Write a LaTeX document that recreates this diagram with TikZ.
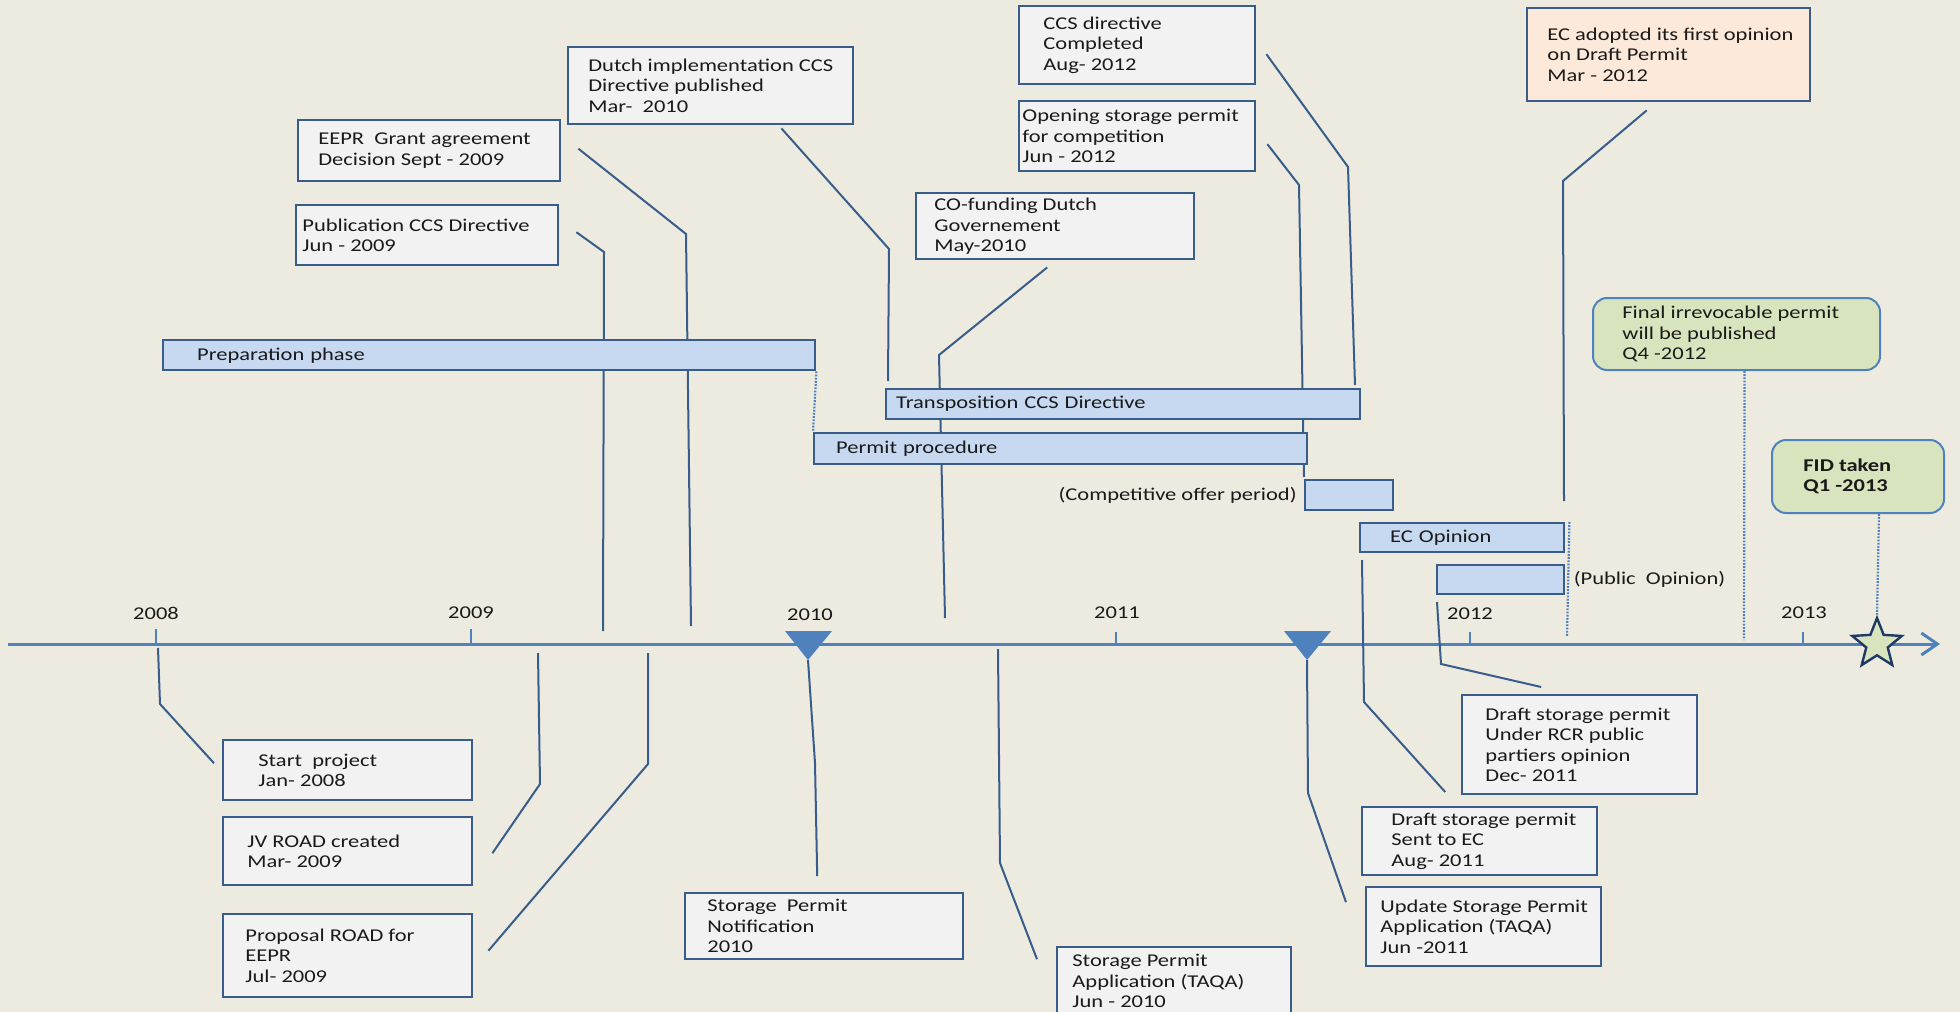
\documentclass[tikz,border=0pt]{standalone}
\usepackage{fontspec}
\setmainfont{Carlito}[FakeStretch=1.25]
\usetikzlibrary{positioning,shapes.geometric,arrows.meta}
\definecolor{paper}{RGB}{237,235,224}
\definecolor{boxline}{RGB}{56,93,138}
\definecolor{boxfill}{RGB}{242,242,242}
\definecolor{barfill}{RGB}{198,217,241}
\definecolor{axisblue}{RGB}{79,129,189}
\definecolor{milestone}{RGB}{215,228,189}
\definecolor{peach}{RGB}{253,233,217}
\definecolor{starline}{RGB}{31,56,100}
\definecolor{ink}{RGB}{26,26,26}

\begin{document}
\begin{tikzpicture}[x=0.5pt,y=-0.5pt,font=\fontsize{9}{10.2}\selectfont,text=ink,
  evbox/.style={draw=boxline,fill=boxfill,line width=1.2pt,anchor=north west,inner sep=0pt},
  evtext/.style={align=left,inner sep=0pt},
  bar/.style={draw=boxline,fill=barfill,line width=1.2pt,anchor=north west,inner ysep=0pt,align=left},
  goal/.style={draw=axisblue,fill=milestone,line width=1pt,rounded corners=7pt,anchor=north west,inner sep=0pt},
  leader/.style={draw=boxline,line width=1pt},
  guide/.style={draw=axisblue,line width=1.1pt,dash pattern=on 0.9pt off 0.7pt},
  tick/.style={draw=axisblue,line width=1pt}]
\useasboundingbox (0,0) rectangle (1960,1012);
\clip (0,0) rectangle (1960,1012);
\fill[paper] (0,0) rectangle (1960,1012);

% time axis
\draw[axisblue,line width=1.5pt,-{Straight Barb[length=8pt,width=11pt]}] (8,644) -- (1940,644);
\draw[tick] (156,629) -- (156,644);
\draw[tick] (471,629) -- (471,644);
\draw[tick] (1116,632) -- (1116,644);
\draw[tick] (1470,632) -- (1470,644);
\draw[tick] (1803,632) -- (1803,644);
\node (y2008) at (156,613) {2008};
\node (y2009) at (471,613) {2009};
\node (y2010) at (810,615) {2010};
\node (y2011) at (1117,613) {2011};
\node (y2012) at (1470,614) {2012};
\node (y2013) at (1804,613) {2013};
\fill[axisblue] (785,631) -- (832,631) -- (808,660) -- cycle;
\coordinate (mark2010) at (808,660);
\fill[axisblue] (1284,631) -- (1331,631) -- (1307,660) -- cycle;
\coordinate (mark2011) at (1307,660);

% events above the axis
\node[evbox,minimum width=131pt,minimum height=30pt] (pubccs) at (295,204) {};
\node[evtext,right=3.5pt of pubccs.west] {Publication CCS Directive\\Jun - 2009};
\node[evbox,minimum width=131pt,minimum height=30.5pt] (eepr) at (297,119) {};
\node[evtext,right=10.5pt of eepr.west] {EEPR\ \ Grant agreement\\Decision Sept - 2009};
\node[evbox,minimum width=142.5pt,minimum height=38.5pt] (dutchimpl) at (567,46) {};
\node[evtext,right=10.5pt of dutchimpl.west] {Dutch implementation CCS\\Directive published\\Mar-\ \ 2010};
\node[evbox,minimum width=139pt,minimum height=33pt] (cofund) at (915,192) {};
\node[evtext,right=9.5pt of cofund.west] {CO-funding Dutch\\Governement\\May-2010};
\node[evbox,minimum width=118pt,minimum height=39pt] (ccsdone) at (1018,5) {};
\node[evtext,right=12.5pt of ccsdone.west] {CCS directive\\Completed\\Aug- 2012};
\node[evbox,minimum width=118pt,minimum height=35pt] (opening) at (1018,100) {};
\node[evtext,right=2pt of opening.west] {Opening storage permit\\for competition\\Jun - 2012};
\node[evbox,fill=peach,minimum width=141.5pt,minimum height=46.5pt] (ecfirst) at (1526,7) {};
\node[evtext,right=10.5pt of ecfirst.west] {EC adopted its first opinion\\on Draft Permit\\Mar - 2012};
\node[goal,minimum width=143.5pt,minimum height=36pt] (finalpermit) at (1592,297) {};
\node[evtext,right=15pt of finalpermit.west] {Final irrevocable permit\\will be published\\Q4 -2012};
\node[goal,minimum width=86pt,minimum height=36.5pt] (fid) at (1771,439) {};
\node[evtext,font=\fontsize{9}{10.2}\selectfont\bfseries,right=16pt of fid.west] {FID taken\\Q1 -2013};

% events below the axis
\node[evbox,minimum width=124.5pt,minimum height=30pt] (startproj) at (222,739) {};
\node[evtext,right=18pt of startproj.west] {Start\ \ project\\Jan- 2008};
\node[evbox,minimum width=124.5pt,minimum height=34pt] (jvroad) at (222,816) {};
\node[evtext,right=12.5pt of jvroad.west] {JV ROAD created\\Mar- 2009};
\node[evbox,minimum width=124.5pt,minimum height=41.5pt] (proposal) at (222,913) {};
\node[evtext,right=11.5pt of proposal.west] {Proposal ROAD for\\EEPR\\Jul- 2009};
\node[evbox,minimum width=139pt,minimum height=33pt] (notif) at (684,892) {};
\node[evtext,right=11.5pt of notif.west] {Storage\ \ Permit\\Notification\\2010};
\node[evbox,minimum width=117pt,minimum height=34pt] (applic) at (1056,946) {};
\node[evtext,right=8pt of applic.west] {Storage Permit\\Application (TAQA)\\Jun - 2010};
\node[evbox,minimum width=117.5pt,minimum height=49.5pt] (rcr) at (1461,694) {};
\node[evtext,right=12pt of rcr.west] {Draft storage permit\\Under RCR public\\partiers opinion\\Dec- 2011};
\node[evbox,minimum width=117.5pt,minimum height=34pt] (senttoec) at (1361,806) {};
\node[evtext,right=15pt of senttoec.west] {Draft storage permit\\Sent to EC\\Aug- 2011};
\node[evbox,minimum width=117.5pt,minimum height=39.5pt] (update) at (1365,886) {};
\node[evtext,right=7.5pt of update.west] {Update Storage Permit\\Application (TAQA)\\Jun -2011};

% leader lines
\draw[leader] ([shift={(17,-3)}]pubccs.east) -- (604,252) -- (603,631);
\draw[leader] ([shift={(17,-2)}]eepr.east) -- (686,234) -- (691,626);
\draw[leader] ([shift={(-73,3)}]dutchimpl.south east) -- (889,249) -- (888,381);
\draw[leader] ([shift={(-8,7)}]cofund.south) -- (939,355) -- (945,618);
\draw[leader] ([shift={(11,8)}]opening.east) -- (1299,185) -- (1304,477);
\draw[leader] ([shift={(10,9)}]ccsdone.east) -- (1348,167) -- (1355,385);
\draw[leader] ([shift={(-22,8)}]ecfirst.south) -- (1563,181) -- (1564,501);
\draw[leader] (158,648) -- (160,704) -- ([shift={(-8,-7)}]startproj.west);
\draw[leader] (538,653) -- (540,784) -- ([shift={(19,2)}]jvroad.east);
\draw[leader] (648,653) -- (648,764) -- ([shift={(15,-5)}]proposal.east);
\draw[leader] (mark2010) -- (815,763) -- ([shift={(-7,-16)}]notif.north);
\draw[leader] (998,649) -- (1000,863) -- ([shift={(-19,-22)}]applic.west);
\draw[leader] (mark2011) -- (1308,793) -- ([shift={(-19,-24.5)}]update.west);
\draw[leader] (1362,560) -- (1364,702) -- ([shift={(-34.5,-14)}]senttoec.north);
\draw[leader] (1437,602) -- (1441,664) -- ([shift={(-38.5,-7)}]rcr.north);

% phases
\node[bar,text width=292pt,inner xsep=17pt,minimum height=15pt] (prep) at (162,339) {Preparation phase};
\node[bar,text width=227pt,inner xsep=5pt,minimum height=15pt] (transpo) at (885,388) {Transposition CCS Directive};
\node[bar,text width=224.5pt,inner xsep=11pt,minimum height=15.5pt] (permit) at (813,432) {Permit procedure};
\node[bar,minimum width=44pt,minimum height=15pt] (compet) at (1304,479) {};
\node[evtext,left=3.5pt of compet] {(Competitive offer period)};
\node[bar,text width=72pt,inner xsep=15pt,minimum height=14.5pt] (ecop) at (1359,522) {EC Opinion};
\node[bar,minimum width=63.5pt,minimum height=14.5pt] (pubop) at (1436,564) {};
\node[evtext,right=4pt of pubop] {(Public\ \ Opinion)};

\draw[guide] (prep.south east) -- (permit.north west);
\draw[guide] ([xshift=2pt]ecop.north east) -- (1567,637);
\draw[guide] ([xshift=4pt]finalpermit.south) -- (1744,640);
\node[star,star points=5,star point ratio=2.3,minimum size=26pt,inner sep=0pt,
  fill=milestone,draw=starline,line width=1.2pt] (fidstar) at (1877,644) {};
\draw[guide] ([xshift=10.5pt]fid.south) -- (fidstar.north);
\end{tikzpicture}
\end{document}
